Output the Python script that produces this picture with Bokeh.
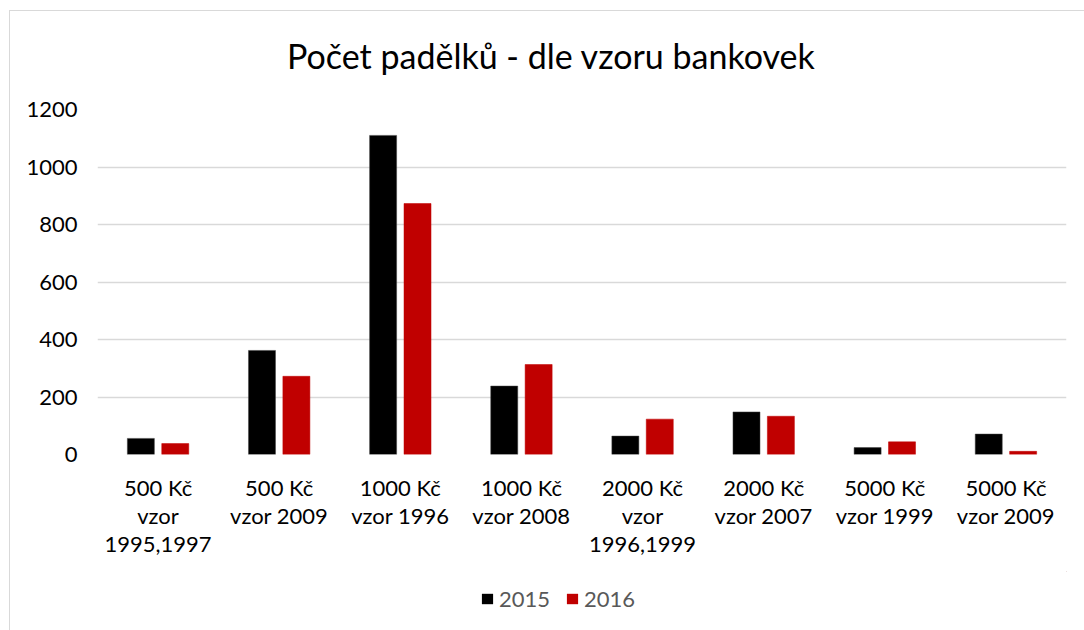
from bokeh.plotting import figure
from bokeh.models import ColumnDataSource, FactorRange, Legend, LegendItem, FixedTicker, Div
from bokeh.layouts import column
from bokeh.transform import dodge
from bokeh.embed import file_html
from bokeh.resources import INLINE

categories = ["500 Kč\nvzor\n1995,1997", "500 Kč\nvzor 2009", "1000 Kč\nvzor 1996", "1000 Kč\nvzor 2008",
              "2000 Kč\nvzor\n1996,1999", "2000 Kč\nvzor 2007", "5000 Kč\nvzor 1999", "5000 Kč\nvzor 2009"]
y2015 = [56, 362, 1110, 238, 64, 148, 24, 71]
y2016 = [38, 272, 873, 313, 123, 133, 44, 11]
y_ticks = [0, 200, 400, 600, 800, 1000, 1200]
title_text = "Počet padělků - dle vzoru bankovek"
series_names = ["2015", "2016"]
series_colors = ["#000000", "#C00000"]

FONT = "Lato"
src = ColumnDataSource(dict(cat=categories, a=y2015, b=y2016))

# title strip
title_div = Div(text=('<div style="margin:0; padding-left:272px; padding-top:19px; font-family:Lato; '
                      'font-size:34px; line-height:41px; color:#000000; white-space:nowrap">'
                      + title_text + '</div>'),
                width=1074, height=68)

p = figure(x_range=FactorRange(*categories, range_padding=0), y_range=(0, 1200),
           width=1074, height=482, output_backend="svg", toolbar_location=None,
           min_border_left=87, min_border_right=18, min_border_top=20, min_border_bottom=117)
p.outline_line_color = None
p.background_fill_color = "white"
p.border_fill_color = "white"

p.vbar(x=dodge("cat", -0.142, range=p.x_range), top="a", width=0.223, source=src,
       fill_color=series_colors[0], line_color="#404040", line_width=0.5)
p.vbar(x=dodge("cat", 0.142, range=p.x_range), top="b", width=0.223, source=src,
       fill_color=series_colors[1], line_color=series_colors[1], line_width=0.5)

p.xgrid.grid_line_color = None
p.ygrid.grid_line_color = "#d9d9d9"
p.ygrid.grid_line_width = 1.5
p.yaxis.ticker = FixedTicker(ticks=y_ticks)

for ax in (p.xaxis[0], p.yaxis[0]):
    ax.axis_line_color = None
    ax.major_tick_line_color = None
    ax.minor_tick_line_color = None
    ax.major_tick_out = 0
    ax.major_tick_in = 0
    ax.major_label_text_font = FONT
    ax.major_label_text_font_size = "22px"
    ax.major_label_text_color = "#000000"
p.yaxis.major_label_standoff = 20
p.xaxis.major_label_standoff = 19
p.xaxis.major_label_text_line_height = 1.05

# legend strip below the chart
pl = figure(width=1074, height=59, x_range=(0, 1), y_range=(0, 1), output_backend="svg",
            toolbar_location=None, x_axis_type=None, y_axis_type=None,
            min_border=0, min_border_left=0, min_border_right=0, min_border_top=0, min_border_bottom=0)
pl.outline_line_color = None
pl.background_fill_color = "white"
pl.border_fill_color = "white"
# legend swatch renderers (kept outside the visible range of this strip)
lr1 = pl.vbar(x=[5], top=[5], bottom=[4], width=0.1, fill_color=series_colors[0], line_color=None)
lr2 = pl.vbar(x=[5], top=[5], bottom=[4], width=0.1, fill_color=series_colors[1], line_color=None)
legend = Legend(items=[LegendItem(label=series_names[0], renderers=[lr1]),
                       LegendItem(label=series_names[1], renderers=[lr2])],
                orientation="horizontal", location=(383, 18),
                label_text_font=FONT, label_text_font_size="22px", label_text_color="#595959",
                glyph_width=14, glyph_height=13, spacing=15, padding=0, margin=0,
                label_standoff=5, border_line_color=None, background_fill_alpha=0)
pl.add_layout(legend, "center")

layout = column(title_div, p, pl, spacing=0)
layout.styles = {"border-left": "1px solid #d9d9d9", "border-top": "1px solid #d9d9d9",
                 "margin-left": "9px", "margin-top": "10px", "background-color": "white"}

open("out.html", "w").write(file_html(layout, INLINE))
